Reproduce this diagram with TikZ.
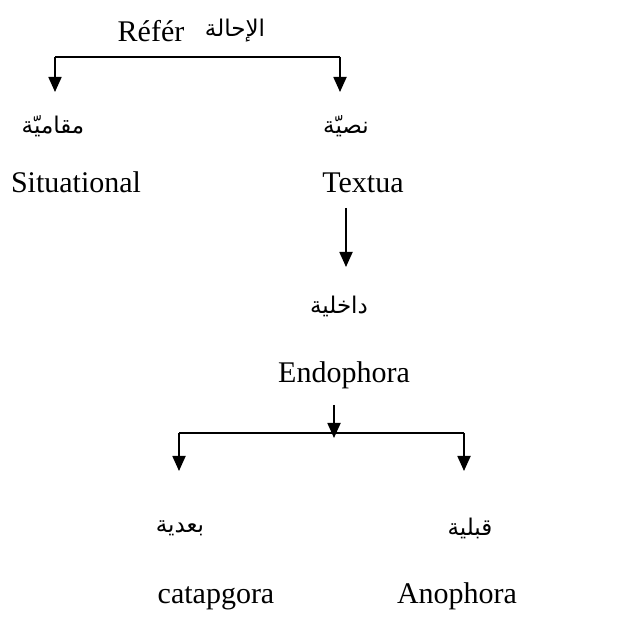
\documentclass[tikz,border=0pt]{standalone}
\usepackage{fontspec}
\setmainfont{Liberation Serif}
\newfontfamily\arabicfont[Script=Arabic]{DejaVu Sans}
\TeXXeTstate=1
\usetikzlibrary{arrows.meta}
\begin{document}
\begin{tikzpicture}[x=1pt,y=-1pt,
  lat/.style={inner sep=0pt,anchor=base,font=\fontsize{30}{36}\selectfont},
  ara/.style={inner sep=0pt,anchor=center,font=\arabicfont\fontsize{23}{28}\selectfont},
  link/.style={line width=1.8pt},
  arr/.style={line width=1.8pt,-{Triangle[length=15pt,width=13pt]}}]
\useasboundingbox (0,0) rectangle (627,617);
% top label
\node[lat] (ref) at (151,42) {Référ};
\node[ara] (refar) at (235,31) {\beginR الإحالة\endR};
% first split
\coordinate (s1) at (55,57);
\coordinate (s2) at (340,57);
\coordinate (t1) at (55,92);
\coordinate (t2) at (340,92);
\draw[link] (s1) -- (s2);
\draw[arr] (s1) -- (t1);
\draw[arr] (s2) -- (t2);
% situational branch
\node[ara] (sitar) at (53,126) {\beginR مقاميّة\endR};
\node[lat] (sit) at (76,193) {Situational};
% textual branch
\node[ara] (txtar) at (346,126) {\beginR نصيّة\endR};
\node[lat] (txt) at (363,193) {Textua};
\coordinate (u1) at (346,208);
\coordinate (u2) at (346,267);
\draw[arr] (u1) -- (u2);
\node[ara] (endar) at (339,306) {\beginR داخلية\endR};
\node[lat] (endo) at (344,383) {Endophora};
% second split
\coordinate (v1) at (334,405);
\coordinate (v2) at (334,438);
\draw[arr] (v1) -- (v2);
\coordinate (w1) at (179,433);
\coordinate (w2) at (464,433);
\coordinate (x1) at (179,471);
\coordinate (x2) at (464,471);
\draw[link] (w1) -- (w2);
\draw[arr] (w1) -- (x1);
\draw[arr] (w2) -- (x2);
\node[ara] (catar) at (180,528) {\beginR بعدية\endR};
\node[lat] (cat) at (216,603) {catapgora};
\node[ara] (anoar) at (470,528) {\beginR قبلية\endR};
\node[lat] (ano) at (457,603) {Anophora};
\end{tikzpicture}
\end{document}
